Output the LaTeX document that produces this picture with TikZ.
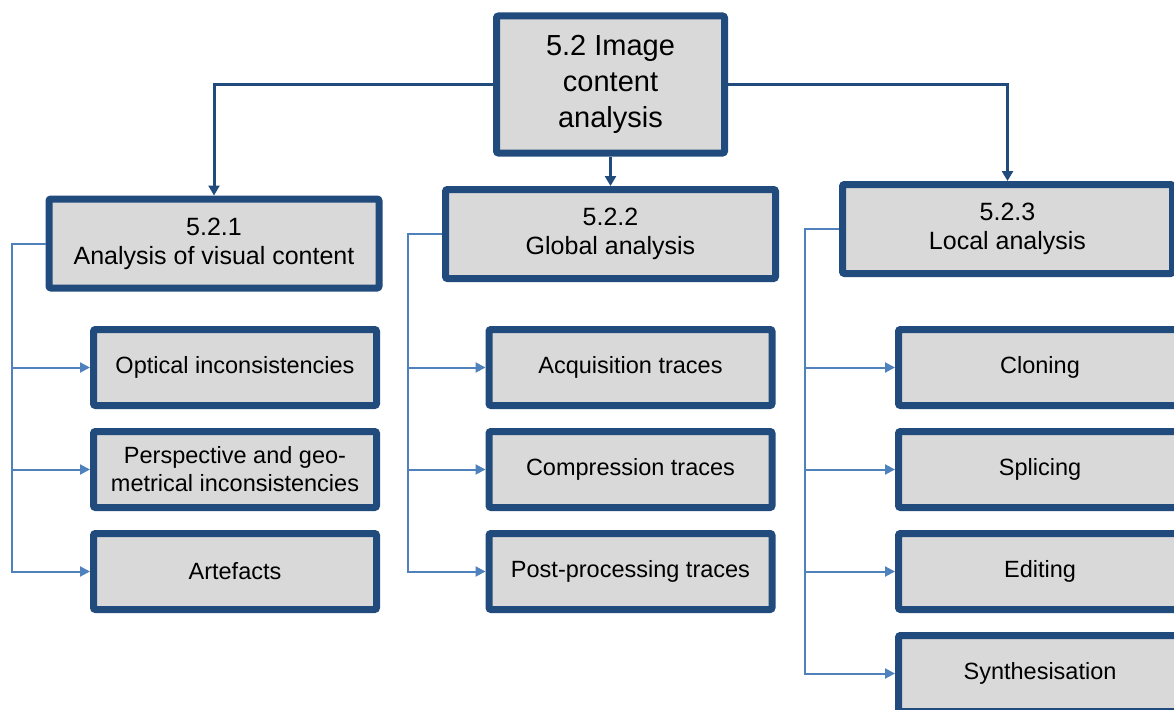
\documentclass[tikz,border=0pt]{standalone}
\usepackage{fontspec}
\setmainfont{Liberation Sans}
\usetikzlibrary{arrows.meta}
\definecolor{boxline}{RGB}{33,74,125}
\definecolor{boxfill}{RGB}{217,217,217}
\definecolor{treeline}{RGB}{79,129,189}
\tikzset{
  box/.style={draw=boxline, fill=boxfill, line width=7pt, rounded corners=2pt,
    inner sep=0pt, align=center, text=black},
  topbox/.style={box, minimum width=228pt, minimum height=137pt,
    font=\fontsize{29}{36}\selectfont},
  midbox/.style={box, minimum width=330pt, minimum height=89pt,
    font=\fontsize{25}{29}\selectfont},
  leafbox/.style={box, minimum width=283pt, minimum height=76pt,
    font=\fontsize{23.5}{28}\selectfont},
  mainlink/.style={draw=boxline, line width=3pt,
    -{Triangle[length=10pt,width=11pt]}},
  treelink/.style={draw=treeline, line width=2pt,
    -{Triangle[length=10pt,width=10pt]}}
}
\begin{document}
\begin{tikzpicture}[x=1pt,y=-1pt]
\clip (0,0) rectangle (1174,709);
\fill[white] (0,0) rectangle (1174,709);

% root and the three branches
\node[topbox] (root) at (610.5,84.5) {5.2 Image\\content\\analysis};
\node[midbox] (visual) at (214,243.5) {5.2.1\\Analysis of visual content};
\node[midbox] (global) at (610.5,234) {5.2.2\\Global analysis};
\node[midbox] (local) at (1007.5,229) {5.2.3\\Local analysis};

% leaves of 5.2.1
\node[leafbox] (optical) at (235,367.5) {Optical inconsistencies};
\node[leafbox] (persp) at (235,469.5) {Perspective and geo-\\metrical inconsistencies};
\node[leafbox] (artef) at (235,571.5) {Artefacts};

% leaves of 5.2.2
\node[leafbox] (acq) at (630.5,367.5) {Acquisition traces};
\node[leafbox] (comp) at (630.5,469.5) {Compression traces};
\node[leafbox] (post) at (630.5,571.5) {Post-processing traces};

% leaves of 5.2.3
\node[leafbox] (clon) at (1040,367.5) {Cloning};
\node[leafbox] (splic) at (1040,469.5) {Splicing};
\node[leafbox] (edit) at (1040,571.5) {Editing};
\node[leafbox] (synth) at (1040,673.5) {Synthesisation};

% root to branches
\draw[mainlink] (root.west) -| (visual.north);
\draw[mainlink] (root.south) -- (global.north);
\draw[mainlink] (root.east) -| (local.north);

% tree trunks beside each column
\coordinate (t1) at (12,243.5);
\coordinate (t2) at (408,234);
\coordinate (t3) at (805,229);

\foreach \leaf in {optical,persp,artef}
  \draw[treelink] (visual.west) -- (t1) |- (\leaf.west);
\foreach \leaf in {acq,comp,post}
  \draw[treelink] (global.west) -- (t2) |- (\leaf.west);
\foreach \leaf in {clon,splic,edit,synth}
  \draw[treelink] (local.west) -- (t3) |- (\leaf.west);
\end{tikzpicture}
\end{document}
